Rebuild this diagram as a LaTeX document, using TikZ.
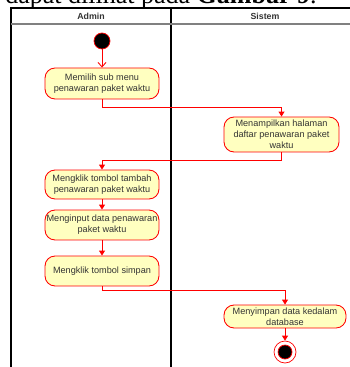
\documentclass[tikz,border=0pt]{standalone}
\usepackage{fontspec}
\setmainfont{Liberation Sans}
\newfontfamily\bookserif{Liberation Serif}
\usetikzlibrary{arrows.meta}
\definecolor{umlred}{RGB}{255,0,0}
\definecolor{umlyellow}{RGB}{255,255,192}
\definecolor{umltext}{RGB}{51,51,51}
\tikzstyle{activity}=[draw=umlred,fill=umlyellow,rounded corners=2mm,line width=0.5pt,align=center,text=umltext,font=\fontsize{5.2}{6.3}\selectfont,inner sep=0pt]
\tikzstyle{flow}=[draw=umlred,line width=0.5pt,-{Triangle[length=1mm,width=1.2mm]}]
\tikzstyle{lane}=[draw=black,line width=0.6pt]

\begin{document}
\begin{tikzpicture}[x=0.02cm,y=-0.02cm]
  \useasboundingbox (0,0) rectangle (350,367);
  % teks yang terpotong di atas
  \node[anchor=base west,inner sep=0] (judul) at (5,3.8) {\bookserif\fontsize{14.8}{16}\selectfont dapat dilihat pada \textbf{Gambar 9}.};
  % swimlane
  \draw[lane] (11,8) rectangle (359,372);
  \draw[lane] (171,8) -- (171,372);
  \draw[draw=gray,line width=0.6pt] (11,24) -- (359,24);
  \node[font=\bfseries\fontsize{5}{6}\selectfont,text=umltext] (admin) at (91,16) {Admin};
  \node[font=\bfseries\fontsize{5}{6}\selectfont,text=umltext] (sistem) at (265,16) {Sistem};

  \node[circle,fill=black,draw=umlred,line width=0.4pt,minimum size=0.32cm,inner sep=0] (mulai) at (102,41) {};
  \node[activity,minimum width=2.28cm,minimum height=0.62cm] (memilih) at (102,83.5) {Memilih sub menu\\penawaran paket waktu};
  \node[activity,minimum width=2.3cm,minimum height=0.7cm] (tampil) at (281.5,134.5) {Menampilkan halaman\\daftar penawaran paket\\waktu};
  \node[activity,minimum width=2.28cm,minimum height=0.58cm] (tambah) at (102,184.5) {Mengklik tombol tambah\\penawaran paket waktu};
  \node[activity,minimum width=2.28cm,minimum height=0.6cm] (input) at (102,225) {Menginput data penawaran\\paket waktu};
  \node[activity,minimum width=2.28cm,minimum height=0.6cm] (simpan) at (102,271) {Mengklik tombol simpan};
  \node[activity,minimum width=2.44cm,minimum height=0.46cm] (database) at (285,316.5) {Menyimpan data kedalam\\database};
  \node[circle,draw=umlred,fill=white,line width=0.4pt,minimum size=0.44cm,inner sep=0] (akhir) at (285,352) {};
  \node[circle,fill=black,draw=umlred,line width=0.4pt,minimum size=0.28cm,inner sep=0] (akhirdalam) at (akhir) {};

  \draw[draw=umlred,line width=0.5pt,-{Straight Barb[length=0.9mm,width=1.6mm]}] (mulai) -- (memilih);
  \draw[flow] (memilih.south) -- ++(0,8) -| (tampil.north);
  \draw[flow] (tampil.south) -- ++(0,8) -| (tambah.north);
  \draw[flow] (tambah) -- (input);
  \draw[flow] (input) -- (simpan);
  \draw[flow] (simpan.south) -- ++(0,4) -| (database.north);
  \draw[flow] (database) -- (akhir);
\end{tikzpicture}
\end{document}
